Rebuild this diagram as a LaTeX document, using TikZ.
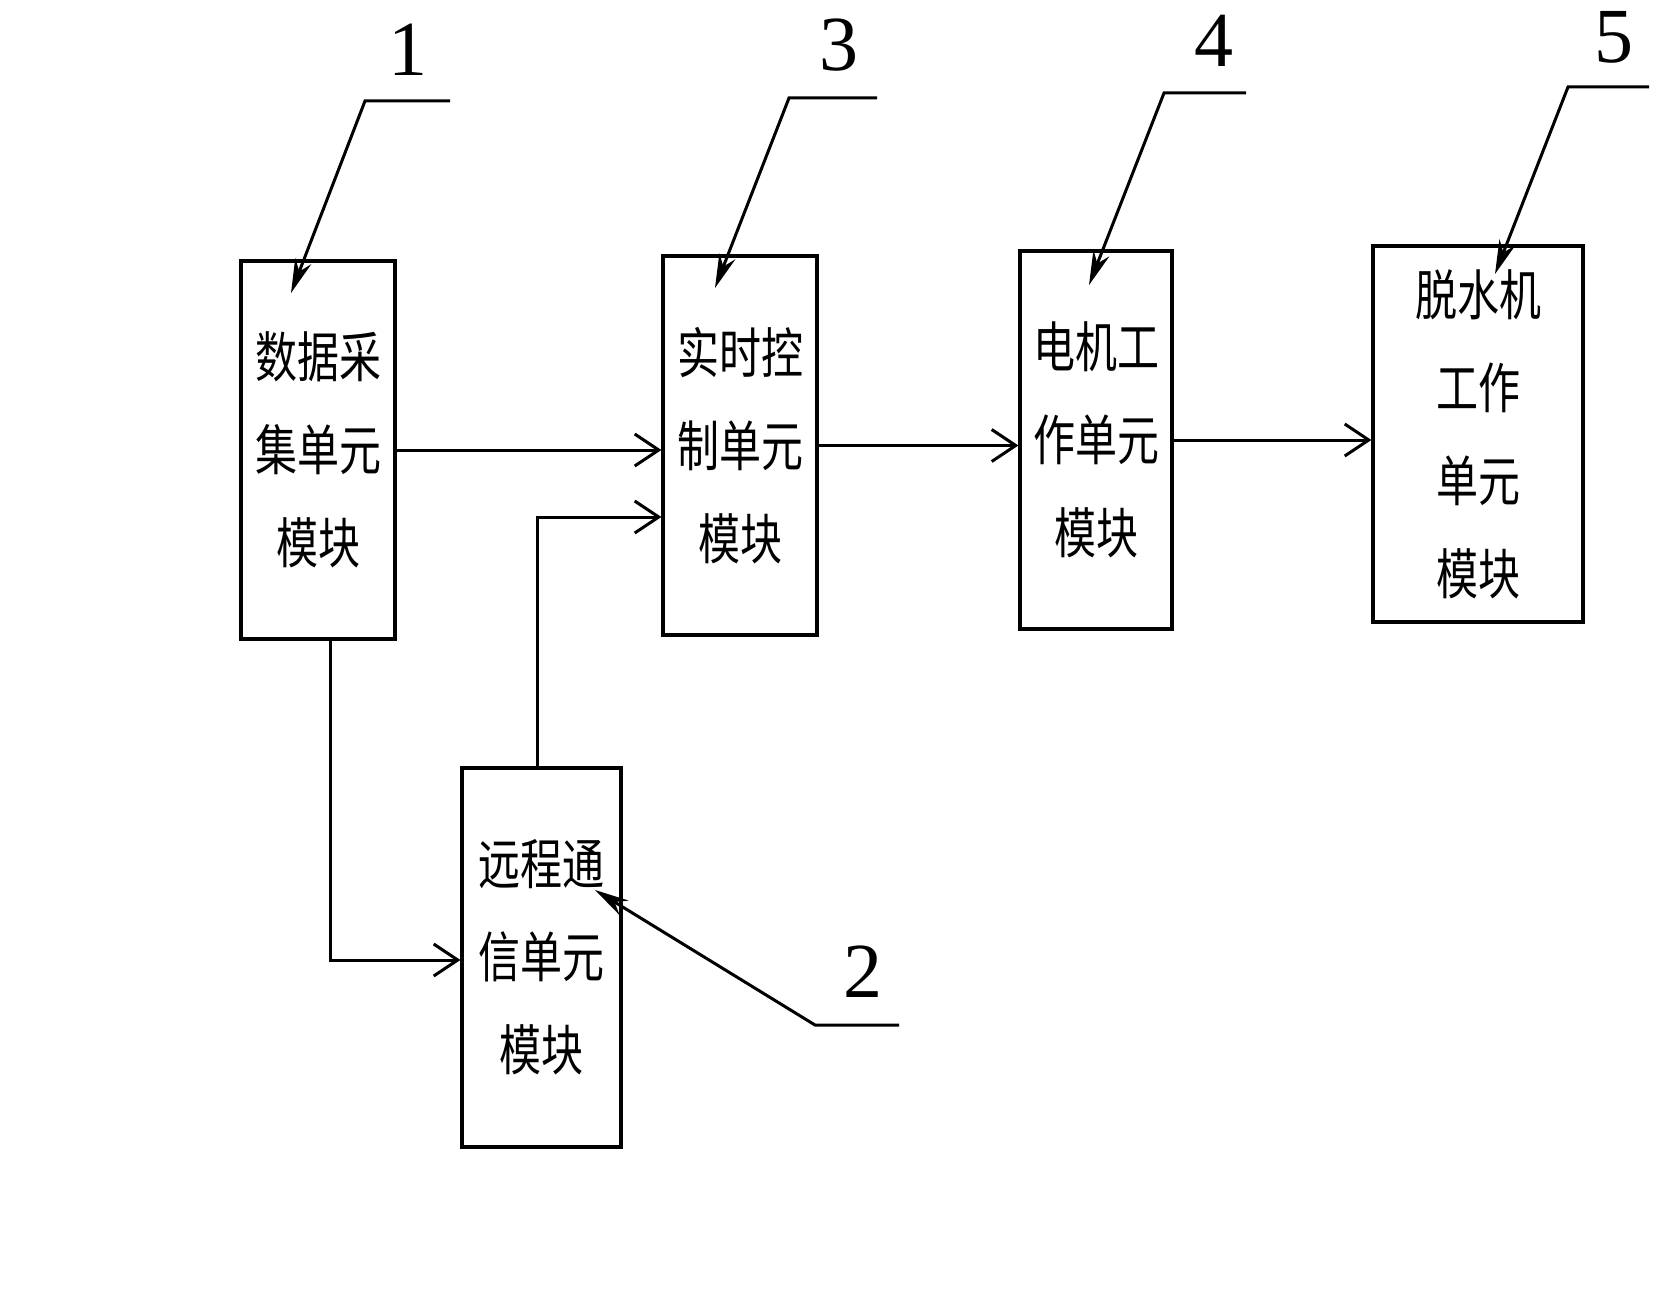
\documentclass[tikz,border=0pt]{standalone}
\usepackage{fontspec}
\setmainfont{Liberation Serif}
\newfontfamily\cjk{Noto Sans CJK SC}
\usetikzlibrary{arrows.meta}
\newcommand{\tl}[1]{\scalebox{1}[1.3]{#1}}
\tikzset{
  box/.style={draw, line width=3.2pt, inner sep=0pt, align=center,
    font=\cjk\fontsize{42}{93}\selectfont},
  arr/.style={line width=3pt, -{Straight Barb[length=24pt,width=32pt,line width=3pt]}},
  lead/.style={line width=3pt, -{Stealth[length=34pt,width=17pt]}},
  num/.style={font=\fontsize{78}{80}\selectfont, inner sep=0pt}
}
\begin{document}
\begin{tikzpicture}[x=1pt,y=-1pt]
\useasboundingbox (0,0) rectangle (1664,1295);
% boxes
\node[box, minimum width=154pt, minimum height=378pt] (b1) at (318,450)
  {\tl{数据采}\\\tl{集单元}\\\tl{模块}};
\node[box, minimum width=154pt, minimum height=379pt] (b3) at (740,445.5)
  {\tl{实时控}\\\tl{制单元}\\\tl{模块}};
\node[box, minimum width=152pt, minimum height=378pt] (b4) at (1096,440)
  {\tl{电机工}\\\tl{作单元}\\\tl{模块}};
\node[box, minimum width=210pt, minimum height=376pt] (b5) at (1478,434)
  {\tl{脱水机}\\\tl{工作}\\\tl{单元}\\\tl{模块}};
\node[box, minimum width=159pt, minimum height=379pt] (b2) at (541.5,957.5)
  {\tl{远程通}\\\tl{信单元}\\\tl{模块}};
% connectors
\draw[arr] (b1.east) -- (b3.west |- b1.east);
\draw[arr] ([xshift=-4.5pt]b2.north) |- ([yshift=-71.5pt]b3.west);
\draw[arr] (b3.east) -- (b4.west |- b3.east);
\draw[arr] (b4.east) -- (b5.west |- b4.east);
\draw[arr] ([xshift=12pt]b1.south) |- ([yshift=-2.5pt]b2.west);
% leaders and numbers
\node[num] (n1) at (408,50) {1};
\coordinate (l1a) at (450,101);
\coordinate (l1b) at (365,101);
\coordinate (l1t) at (291,293);
\draw[lead] (l1a) -- (l1b) -- (l1t);
\node[num] (n3) at (839,45) {3};
\coordinate (l3a) at (877,98);
\coordinate (l3b) at (789,98);
\coordinate (l3t) at (715,288);
\draw[lead] (l3a) -- (l3b) -- (l3t);
\node[num] (n4) at (1214,41) {4};
\coordinate (l4a) at (1246,93);
\coordinate (l4b) at (1164,93);
\coordinate (l4t) at (1089,285);
\draw[lead] (l4a) -- (l4b) -- (l4t);
\node[num] (n5) at (1614,37) {5};
\coordinate (l5a) at (1649,87);
\coordinate (l5b) at (1568,87);
\coordinate (l5t) at (1495,274);
\draw[lead] (l5a) -- (l5b) -- (l5t);
\node[num] (n2) at (863,972) {2};
\coordinate (l2a) at (899,1025);
\coordinate (l2b) at (815,1025);
\coordinate (l2t) at (595,890);
\draw[lead] (l2a) -- (l2b) -- (l2t);
\end{tikzpicture}
\end{document}
